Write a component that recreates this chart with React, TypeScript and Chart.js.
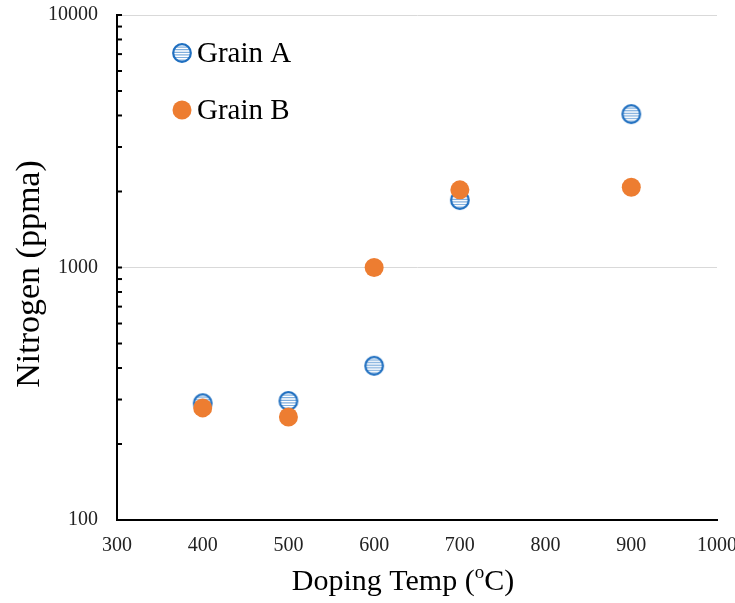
import React, { useEffect, useRef } from "react";
import { Chart, registerables } from "chart.js";

Chart.register(...registerables);

const temps: number[] = [400, 500, 600, 700, 900];
const grainA: number[] = [290, 296, 408, 1850, 4050];
const grainB: number[] = [278, 256, 1000, 2030, 2080];
const yMajorTicks: number[] = [100, 1000, 10000];
const seriesNames: string[] = ["Grain A", "Grain B"];

const BLUE = "#1F6FC0";
const STRIPE = "#7FAEDD";
const ORANGE = "#ED7D31";
const SERIF = "'Liberation Serif', 'Times New Roman', serif";

function makeStripedMarker(): HTMLCanvasElement {
  const c = document.createElement("canvas");
  const s = 22;
  c.width = s;
  c.height = s;
  const g = c.getContext("2d")!;
  const cx = s / 2;
  g.beginPath();
  g.arc(cx, cx, 8.8, 0, Math.PI * 2);
  g.fillStyle = "#ffffff";
  g.fill();
  g.save();
  g.beginPath();
  g.arc(cx, cx, 8.8, 0, Math.PI * 2);
  g.clip();
  g.strokeStyle = STRIPE;
  g.lineWidth = 1.2;
  for (let y = 2.5; y < s; y += 2.6) {
    g.beginPath();
    g.moveTo(0, y);
    g.lineTo(s, y);
    g.stroke();
  }
  g.restore();
  g.beginPath();
  g.arc(cx, cx, 8.8, 0, Math.PI * 2);
  g.strokeStyle = BLUE;
  g.lineWidth = 2.2;
  g.stroke();
  return c;
}

export default function App() {
  const ref = useRef<HTMLCanvasElement | null>(null);

  useEffect(() => {
    if (!ref.current) return;
    const marker = makeStripedMarker();

    const decorPlugin = {
      id: "decor",
      afterDraw(chart: any) {
        const ctx = chart.ctx;
        const ys = chart.scales.y;
        const area = chart.chartArea;
        ctx.save();
        ctx.strokeStyle = "#000";
        ctx.lineWidth = 2;
        for (let d = 100; d <= 1000; d *= 10) {
          for (let m = 2; m <= 10; m++) {
            const v = d * m;
            const py = ys.getPixelForValue(v);
            ctx.beginPath();
            ctx.moveTo(area.left, py);
            ctx.lineTo(area.left + 5, py);
            ctx.stroke();
          }
        }
        const lx = area.left + 65;
        const ly1 = area.top + 38;
        const ly2 = area.top + 95;
        ctx.drawImage(marker, lx - 11, ly1 - 11);
        ctx.beginPath();
        ctx.arc(lx, ly2, 9.5, 0, Math.PI * 2);
        ctx.fillStyle = ORANGE;
        ctx.fill();
        ctx.fillStyle = "#000";
        ctx.font = `29px ${SERIF}`;
        ctx.textAlign = "left";
        ctx.textBaseline = "middle";
        ctx.fillText(seriesNames[0], lx + 15, ly1 + 1);
        ctx.fillText(seriesNames[1], lx + 15, ly2 + 1);
        ctx.save();
        ctx.translate(30, 274);
        ctx.rotate(-Math.PI / 2);
        ctx.font = `34px ${SERIF}`;
        ctx.textAlign = "center";
        ctx.textBaseline = "middle";
        ctx.fillText("Nitrogen (ppma)", 0, 0);
        ctx.restore();
        ctx.font = `30px ${SERIF}`;
        const p1 = "Doping Temp (";
        const p3 = "C)";
        const w1 = ctx.measureText(p1).width;
        const w3 = ctx.measureText(p3).width;
        ctx.font = `19px ${SERIF}`;
        const w2 = ctx.measureText("o").width;
        const total = w1 + w2 + w3;
        let x = 403 - total / 2;
        const by = 590;
        ctx.textAlign = "left";
        ctx.textBaseline = "alphabetic";
        ctx.font = `30px ${SERIF}`;
        ctx.fillText(p1, x, by);
        x += w1;
        ctx.font = `19px ${SERIF}`;
        ctx.fillText("o", x, by - 12);
        x += w2;
        ctx.font = `30px ${SERIF}`;
        ctx.fillText(p3, x, by);
        ctx.restore();
      },
    };

    const chart = new Chart(ref.current, {
      type: "scatter",
      data: {
        datasets: [
          {
            label: seriesNames[0],
            data: temps.map((t, i) => ({ x: t, y: grainA[i] })),
            pointStyle: marker as any,
            pointRadius: 10,
            order: 1,
          },
          {
            label: seriesNames[1],
            data: temps.map((t, i) => ({ x: t, y: grainB[i] })),
            pointStyle: "circle",
            pointRadius: 9.5,
            pointBorderWidth: 0,
            backgroundColor: ORANGE,
            borderColor: ORANGE,
            order: 0,
          },
        ],
      },
      options: {
        animation: false,
        responsive: true,
        maintainAspectRatio: false,
        layout: { padding: { top: 15, right: 18, left: 0, bottom: 0 } },
        plugins: {
          legend: { display: false },
          tooltip: { enabled: false },
        },
        scales: {
          x: {
            type: "linear",
            min: 300,
            max: 1000,
            ticks: {
              stepSize: 100,
              padding: 14,
              color: "#222",
              font: { family: SERIF, size: 20 },
              callback: (v: any) => String(v),
            },
            grid: { drawOnChartArea: false, drawTicks: false },
            border: { display: true, color: "#000", width: 2 },
            afterFit: (s: any) => {
              s.height = 83;
              s.paddingLeft = 0;
              s.paddingRight = 0;
            },
          },
          y: {
            type: "logarithmic",
            min: 100,
            max: 10000,
            afterBuildTicks: (s: any) => {
              s.ticks = yMajorTicks.map((v) => ({ value: v }));
            },
            ticks: {
              padding: 19,
              color: "#222",
              font: { family: SERIF, size: 20 },
              callback: (v: any) => String(v),
            },
            grid: { color: "#d9d9d9", lineWidth: 1, drawTicks: false },
            border: { display: true, color: "#000", width: 2 },
            afterFit: (s: any) => {
              s.width = 117;
              s.paddingTop = 0;
              s.paddingBottom = 0;
            },
          },
        },
      },
      plugins: [decorPlugin],
    });
    return () => chart.destroy();
  }, []);

  return (
    <div style={{ position: "fixed", left: 0, top: 0, width: 735, height: 603, background: "#fff" }}>
      <canvas ref={ref} />
    </div>
  );
}
